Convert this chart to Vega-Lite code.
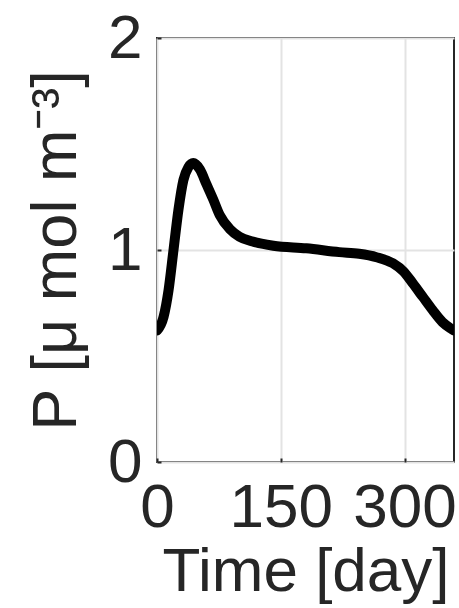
{
  "$schema": "https://vega.github.io/schema/vega-lite/v6.json",
  "autosize": {"type": "none"},
  "width": 297,
  "height": 424,
  "padding": {"left": 157, "top": 38, "right": 5, "bottom": 146},
  "background": "white",
  "config": {
    "font": "Liberation Sans",
    "view": {"stroke": "#262626", "strokeWidth": 2, "fill": "white"}
  },
  "data": {
    "values": [
      {"day": 0, "P": 0.62},
      {"day": 8, "P": 0.685},
      {"day": 14, "P": 0.81},
      {"day": 20, "P": 1.0},
      {"day": 26, "P": 1.19},
      {"day": 32, "P": 1.33},
      {"day": 38, "P": 1.39},
      {"day": 44, "P": 1.41},
      {"day": 52, "P": 1.38},
      {"day": 60, "P": 1.31},
      {"day": 68, "P": 1.24},
      {"day": 76, "P": 1.165},
      {"day": 88, "P": 1.1},
      {"day": 100, "P": 1.063},
      {"day": 116, "P": 1.04},
      {"day": 141, "P": 1.02},
      {"day": 181, "P": 1.008},
      {"day": 221, "P": 0.99},
      {"day": 245, "P": 0.982},
      {"day": 266, "P": 0.966},
      {"day": 286, "P": 0.937},
      {"day": 299, "P": 0.898},
      {"day": 310, "P": 0.843},
      {"day": 322, "P": 0.78},
      {"day": 334, "P": 0.717},
      {"day": 346, "P": 0.66},
      {"day": 356, "P": 0.63},
      {"day": 360, "P": 0.62}
    ]
  },
  "mark": {"type": "line", "color": "black", "strokeWidth": 10, "interpolate": "monotone", "clip": true, "strokeCap": "round", "strokeJoin": "round"},
  "encoding": {
    "x": {
      "field": "day", "type": "quantitative",
      "scale": {"domain": [0, 360], "nice": false, "zero": false},
      "axis": {
        "title": "Time [day]", "values": [0, 150, 300],
        "labelFontSize": 62, "titleFontSize": 62, "titleFontWeight": "normal",
        "labelColor": "#262626", "titleColor": "#262626",
        "labelPadding": 19, "titlePadding": 3,
        "domain": false, "ticks": true, "tickSize": -4, "tickColor": "#262626", "tickWidth": 2,
        "grid": true, "gridColor": "#e3e3e3", "gridWidth": 2,
        "labelFlush": false, "labelOverlap": false
      }
    },
    "y": {
      "field": "P", "type": "quantitative",
      "scale": {"domain": [0, 2], "nice": false},
      "axis": {
        "title": "P [μ mol m⁻³]", "tickCount": 2,
        "labelFontSize": 62, "titleFontSize": 63, "titleFontWeight": "normal",
        "labelColor": "#262626", "titleColor": "#262626",
        "labelPadding": 19, "titlePadding": 19,
        "domain": false, "ticks": true, "tickSize": -4, "tickColor": "#262626", "tickWidth": 2,
        "grid": true, "gridColor": "#e3e3e3", "gridWidth": 2,
        "labelFlush": false, "labelOverlap": false
      }
    }
  }
}
